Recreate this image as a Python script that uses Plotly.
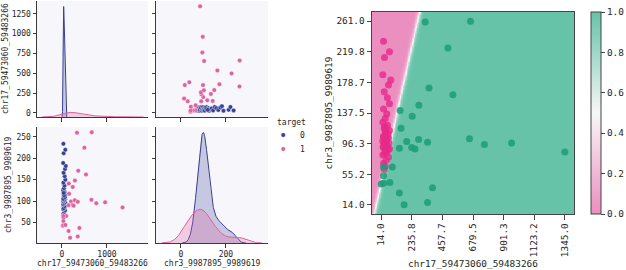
import numpy as np
import plotly.graph_objects as go

FEAT_X = "chr17_59473060_59483266"
FEAT_Y = "chr3_9987895_9989619"
CLASS_LABELS = ["0", "1"]

# target 0 samples
chr17_t0 = [36, 43, 31, 50, 67, 26, 55, 43, 74, 31, 59, 50, 36, 43, 26, 55, 67, 31, 50, 43, 74, 36,
            59, 26, 43, 55, 31, 74, 59, 36, 67, 84, 26, 38, 74, 31,
            40, 62, 28, 47, 70, 35, 53, 45, 30, 64, 48, 38]
chr3_t0 = [62, 66, 70, 74, 78, 81, 84, 87, 89, 91, 93, 95, 96, 98, 100, 102, 104, 106, 108, 111, 114,
           117, 121, 125, 130, 136, 143, 150, 158, 166, 175, 182, 189, 212, 220, 234,
           83, 88, 92, 94, 97, 99, 101, 103, 105, 109, 113, 119]
# target 1 samples
chr17_t1 = [333, 661, 498, 361, 534, 287, 151, 239, 158, 199, 146, 235, 259, 285, 350, 654, 762,
            959, 1345, 95, 31, 31, 14, 31, 77, 386, 146, 180, 350]
chr3_t1 = [260, 261, 225, 171, 162, 148, 141, 133, 117, 99, 90, 91, 89, 102, 98, 103, 95, 97, 85,
           65, 65, 53, 42, 43, 44, 37, 30, 14, 17]

# fitted logistic model (decision surface): p(target=1) = sigmoid(b0 + b1*chr17 + b2*chr3)
MODEL_INTERCEPT = 4.42
MODEL_COEF_X = 0.12
MODEL_COEF_Y = -0.1445

W, H = 626, 270
FONT = "DejaVu Sans Mono"
C0, C1 = "#363f92", "#e0609f"
C0_FILL, C1_FILL = "rgba(54,63,146,0.25)", "rgba(224,96,159,0.28)"
SPINE = "#3a3a3a"
TXT = "#262626"


def px_x(p):
    return p / W


def px_y(p):
    return 1 - p / H


def kde(vals, weight, cut=3, n_grid=400):
    v = np.asarray(vals, float)
    n = len(v)
    bw = v.std(ddof=1) * n ** (-1 / 5)
    xs = np.linspace(v.min() - cut * bw, v.max() + cut * bw, n_grid)
    d = np.exp(-0.5 * ((xs[:, None] - v[None, :]) / bw) ** 2).sum(1) / (n * bw * np.sqrt(2 * np.pi))
    return xs, d * weight


N = len(chr17_t0) + len(chr17_t1)
w0, w1 = len(chr17_t0) / N, len(chr17_t1) / N

col1_range = [-555, 1911]
col2_range = [-111, 387]
row1_range = [-52.5, 1411.5]
row2_range = [1.65, 273.35]
col1_ticks = [0, 1000]
col2_ticks = [0, 200]
row1_ticks = [0, 250, 500, 750, 1000, 1250]
row2_ticks = [50, 100, 150, 200, 250]

fig = go.Figure()


def add_diag(vals0, vals1, xa, ya, yrange):
    k0 = kde(vals0, w0)
    k1 = kde(vals1, w1)
    top = max(k0[1].max(), k1[1].max()) * 1.05
    for (kx, kd), c, cf in [(k0, C0, C0_FILL), (k1, C1, C1_FILL)]:
        ky = yrange[0] + kd / top * (yrange[1] - yrange[0])
        fx = np.concatenate([kx, [kx[-1], kx[0]]])
        fy = np.concatenate([ky, [yrange[0], yrange[0]]])
        fig.add_trace(go.Scatter(x=fx, y=fy, mode="none", fill="toself", fillcolor=cf,
                                 xaxis=xa, yaxis=ya, showlegend=False, hoverinfo="skip"))
        fig.add_trace(go.Scatter(x=kx, y=ky, mode="lines", line=dict(color=c, width=1),
                                 xaxis=xa, yaxis=ya, showlegend=False, hoverinfo="skip"))


# ---- diag top-left: KDE of chr17
add_diag(chr17_t0, chr17_t1, "x", "y", row1_range)

# ---- top-right scatter: chr3 (x) vs chr17 (y)
for xs_, ys_, c in [(chr3_t0, chr17_t0, C0), (chr3_t1, chr17_t1, C1)]:
    fig.add_trace(go.Scatter(x=xs_, y=ys_, mode="markers", xaxis="x2", yaxis="y2",
                             marker=dict(size=4.5, color=c, line=dict(color="white", width=0.4)),
                             showlegend=False))

# ---- bottom-left scatter: chr17 (x) vs chr3 (y)
for xs_, ys_, c in [(chr17_t0, chr3_t0, C0), (chr17_t1, chr3_t1, C1)]:
    fig.add_trace(go.Scatter(x=xs_, y=ys_, mode="markers", xaxis="x3", yaxis="y3",
                             marker=dict(size=4.5, color=c, line=dict(color="white", width=0.4)),
                             showlegend=False))

# ---- diag bottom-right: KDE of chr3
add_diag(chr3_t0, chr3_t1, "x4", "y4", row2_range)

# ---- right: decision surface
all_x = np.array(chr17_t0 + chr17_t1, float)
all_y = np.array(chr3_t0 + chr3_t1, float)
mx = (all_x.max() - all_x.min()) * 0.05
my = (all_y.max() - all_y.min()) * 0.05
gx = np.linspace(all_x.min() - mx, all_x.max() + mx, 320)
gy = np.linspace(all_y.min() - my, all_y.max() + my, 160)
GX, GY = np.meshgrid(gx, gy)
Z = 1 / (1 + np.exp(-(MODEL_INTERCEPT + MODEL_COEF_X * GX + MODEL_COEF_Y * GY)))

fig.add_trace(go.Heatmap(
    x=gx, y=gy, z=Z, zmin=0, zmax=1, xaxis="x5", yaxis="y5",
    colorscale=[[0, "#eb8ec0"], [0.5, "#f7f7f7"], [1, "#66c3a7"]],
    hoverinfo="skip",
    colorbar=dict(x=px_x(591), xanchor="left", y=px_y(214), yanchor="bottom",
                  len=202 / H, lenmode="fraction", thickness=10, xpad=0, ypad=0,
                  outlinewidth=1, outlinecolor="#444", ticks="outside", ticklen=4,
                  tickcolor="#444", tickvals=[0, 0.2, 0.4, 0.6, 0.8, 1.0],
                  ticktext=["0.0", "0.2", "0.4", "0.6", "0.8", "1.0"],
                  tickfont=dict(family=FONT, size=9.4, color=TXT))))
fig.add_trace(go.Scatter(x=chr17_t0, y=chr3_t0, mode="markers", xaxis="x5", yaxis="y5",
                         marker=dict(size=7, color="#e7298a", opacity=0.8), showlegend=False))
fig.add_trace(go.Scatter(x=chr17_t1, y=chr3_t1, mode="markers", xaxis="x5", yaxis="y5",
                         marker=dict(size=7, color="#1b9e77", opacity=0.85), showlegend=False))

# ---- axes
col1 = [px_x(37), px_x(148)]
col2 = [px_x(156), px_x(268)]
row1 = [px_y(117), px_y(1)]
row2 = [px_y(243), px_y(127)]
tickfont = dict(family=FONT, size=8, color=TXT)
base = dict(showline=True, linecolor=SPINE, linewidth=1, ticks="outside", ticklen=3.5,
            tickwidth=1, tickcolor=SPINE, showgrid=False, zeroline=False, tickfont=tickfont)

fig.update_layout(
    xaxis=dict(base, domain=col1, anchor="y", range=col1_range, tickvals=col1_ticks, showticklabels=False),
    yaxis=dict(base, domain=row1, anchor="x", range=row1_range, tickvals=row1_ticks),
    xaxis2=dict(base, domain=col2, anchor="y2", range=col2_range, tickvals=col2_ticks, showticklabels=False),
    yaxis2=dict(base, domain=row1, anchor="x2", range=row1_range, tickvals=row1_ticks, showticklabels=False),
    xaxis3=dict(base, domain=col1, anchor="y3", range=col1_range, tickvals=col1_ticks),
    yaxis3=dict(base, domain=row2, anchor="x3", range=row2_range, tickvals=row2_ticks),
    xaxis4=dict(base, domain=col2, anchor="y4", range=col2_range, tickvals=col2_ticks),
    yaxis4=dict(base, domain=row2, anchor="x4", range=row2_range, tickvals=row2_ticks, showticklabels=False),
)

rx = np.linspace(all_x.min(), all_x.max(), 7)
ry = np.linspace(all_y.min(), all_y.max(), 7)
rbase = dict(showline=True, linecolor="#444", linewidth=1, mirror=True, ticks="outside",
             ticklen=4.5, tickwidth=1, tickcolor="#444", showgrid=False, zeroline=False,
             tickfont=dict(family=FONT, size=9.4, color=TXT))
fig.update_layout(
    xaxis5=dict(rbase, domain=[px_x(372), px_x(574)], anchor="y5",
                range=[gx[0], gx[-1]], tickvals=rx, ticktext=[f"{v:.1f}" for v in rx], tickangle=-90),
    yaxis5=dict(rbase, domain=[px_y(214), px_y(12)], anchor="x5",
                range=[gy[0], gy[-1]], tickvals=ry, ticktext=[f"{v:.1f}" for v in ry]),
)

# ---- titles / legend as annotations
ann = []
small = dict(family=FONT, size=8, color=TXT)
big = dict(family=FONT, size=9.4, color=TXT)
ann.append(dict(text=FEAT_X, x=px_x(92.5), y=px_y(263), font=small))
ann.append(dict(text=FEAT_Y, x=px_x(212), y=px_y(263), font=small))
ann.append(dict(text=FEAT_X, x=px_x(5), y=px_y(59), textangle=-90, font=small))
ann.append(dict(text=FEAT_Y, x=px_x(8), y=px_y(185), textangle=-90, font=small))
ann.append(dict(text=FEAT_X, x=px_x(473), y=px_y(263), font=big))
ann.append(dict(text=FEAT_Y, x=px_x(327.5), y=px_y(113), textangle=-90, font=big))
ann.append(dict(text="target", x=px_x(275), y=px_y(122), xanchor="left", font=small))
ann.append(dict(text=CLASS_LABELS[0], x=px_x(298), y=px_y(135), xanchor="left", font=small))
ann.append(dict(text=CLASS_LABELS[1], x=px_x(298), y=px_y(149), xanchor="left", font=small))
for a in ann:
    a.setdefault("xanchor", "center")
    a.update(xref="paper", yref="paper", yanchor="middle", showarrow=False)

shapes = []
for yy, c in [(135, C0), (149, C1)]:
    shapes.append(dict(type="circle", xref="paper", yref="paper",
                       x0=px_x(281), x1=px_x(285.5), y0=px_y(yy + 2.25), y1=px_y(yy - 2.25),
                       fillcolor=c, line=dict(color="white", width=0.4)))

fig.update_layout(
    width=W, height=H, autosize=False,
    margin=dict(l=0, r=0, t=0, b=0),
    paper_bgcolor="white", plot_bgcolor="#f6f6fb",
    annotations=ann, shapes=shapes, showlegend=False,
    font=dict(family=FONT, color=TXT),
)

fig.write_html("out.html", config={"displayModeBar": False},
               post_script="document.body.style.margin='0';document.body.style.overflow='hidden';")
